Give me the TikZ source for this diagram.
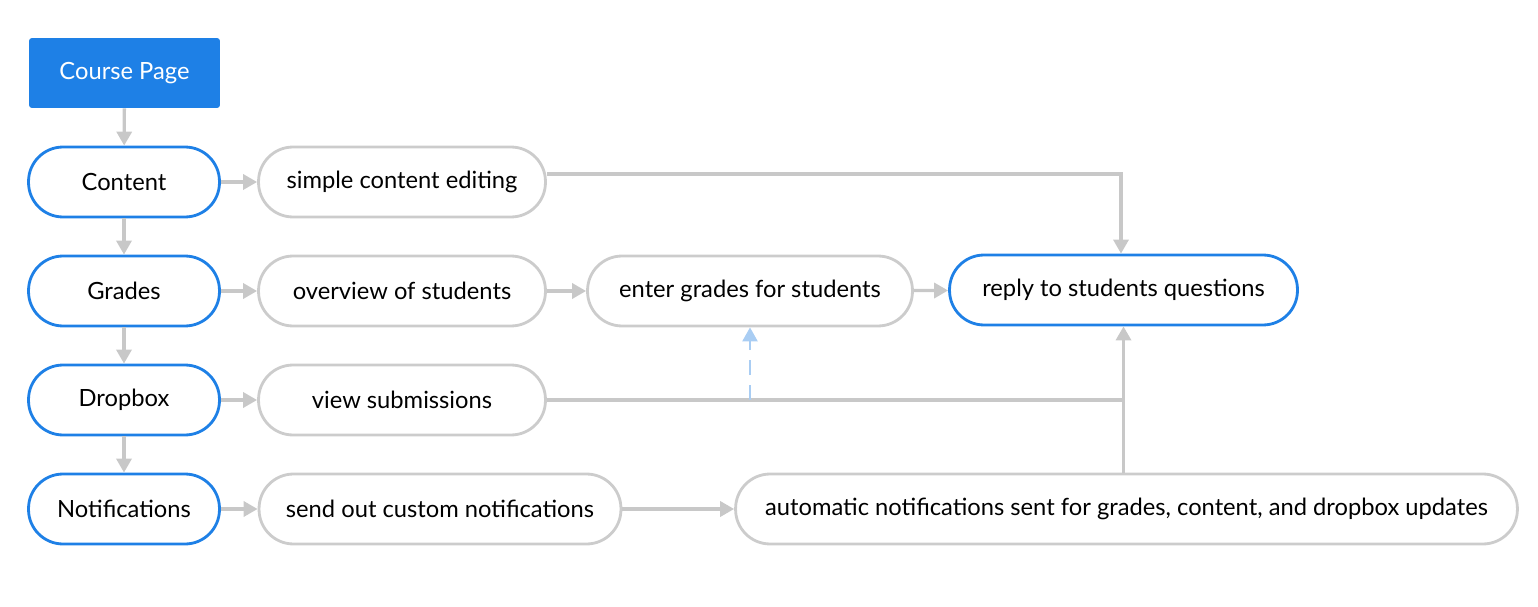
\documentclass[tikz,border=0pt]{standalone}
\usepackage{fontspec}
\setmainfont{Lato}
\usetikzlibrary{positioning, arrows.meta, calc}
\definecolor{lmsblue}{HTML}{1E80E6}
\definecolor{edgegray}{HTML}{CCCCCC}
\definecolor{linkgray}{HTML}{C8C8C8}
\definecolor{hintblue}{HTML}{A9CDF3}

\begin{document}
\begin{tikzpicture}[x=0.02cm, y=0.02cm,
    every node/.style={font=\fontsize{13.5}{16}\selectfont},
    pill/.style={draw=edgegray, line width=1.6pt, fill=white, rounded corners=0.69cm,
      minimum height=1.4cm, inner xsep=0.5cm},
    hub/.style={pill, draw=lmsblue, minimum width=3.82cm},
    link/.style={linkgray, line width=1.9pt, -{Triangle[length=0.28cm, width=0.3cm]}},
    plain/.style={linkgray, line width=1.9pt}]
        \useasboundingbox (0,0) rectangle (1538,606);
        \node[fill=lmsblue, text=white, rounded corners=0.06cm, minimum width=3.82cm,
          minimum height=1.4cm] (course) at (124.5,533) {Course Page};
        % left column
        \node[hub] (content) at (124,424) {Content};
        \node[hub] (grades) at (124,315) {Grades};
        \node[hub] (dropbox) at (124,206) {Dropbox};
        \node[hub] (notif) at (124,97) {Notifications};
        % middle column
        \node[pill, minimum width=5.74cm] (editing) at (402,424) {simple content editing};
        \node[pill, minimum width=5.74cm] (overview) at (402,315) {overview of students};
        \node[pill, minimum width=5.74cm] (submissions) at (402,206) {view submissions};
        \node[pill, minimum width=7.24cm] (custom) at (440,97) {send out custom notifications};
        \node[pill, minimum width=6.5cm] (enter) at (750,315) {enter grades for students};
        \node[pill, draw=lmsblue, minimum width=6.96cm] (reply) at (1123.5,316) {reply to students questions};
        \node[pill, minimum width=15.64cm] (auto) at (1126.5,97)
          {automatic notifications sent for grades, content, and dropbox updates};

        \draw[link] (course) -- (content);
        \draw[link] (content) -- (grades);
        \draw[link] (grades) -- (dropbox);
        \draw[link] (dropbox) -- (notif);
        \draw[link] (content) -- (editing);
        \draw[link] (grades) -- (overview);
        \draw[link] (dropbox) -- (submissions);
        \draw[link] (notif) -- (custom);
        \draw[link] (overview) -- (enter);
        \draw[link] (enter) -- (reply);
        \draw[link] (custom) -- (auto);
        \draw[link] ($(editing.east)+(0,8)$) -| ($(reply.north)+(-2.5,0)$);
        \draw[plain] (submissions.east) -- (submissions.east -| reply.south);
        \draw[link] (auto.north -| reply.south) -- (reply.south);
        \draw[hintblue, line width=1.4pt, dashed, dash pattern=on 0.3cm off 0.2cm,
          -{Triangle[length=0.28cm, width=0.3cm]}] (submissions.east -| enter.south) -- (enter.south);
      \end{tikzpicture}
\end{document}
